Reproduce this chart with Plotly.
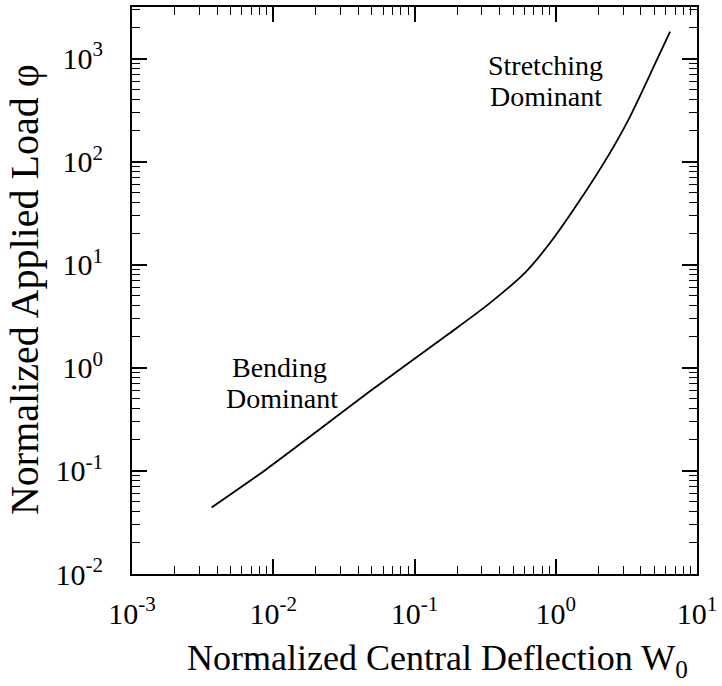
import plotly.graph_objects as go

# Data
W0 = [0.00366, 0.00895, 0.0202, 0.0478, 0.0914, 0.175, 0.336, 0.612, 0.918, 1.445, 2.35, 3.26, 5.06, 6.45]
phi = [0.0442, 0.104, 0.240, 0.585, 1.12, 2.14, 4.17, 8.49, 16.5, 40.1, 113.8, 253, 896, 1820]

x_tickvals = [1e-3, 1e-2, 1e-1, 1e0, 1e1]
x_ticktext = ["10<sup>-3</sup>", "10<sup>-2</sup>", "10<sup>-1</sup>", "10<sup>0</sup>", "10<sup>1</sup>"]
y_tickvals = [1e-2, 1e-1, 1e0, 1e1, 1e2, 1e3]
y_ticktext = ["10<sup>-2</sup>", "10<sup>-1</sup>", "10<sup>0</sup>", "10<sup>1</sup>", "10<sup>2</sup>", "10<sup>3</sup>"]

X_RANGE = [-3, 1]
Y_RANGE = [-2, 3.5]

FONT = "Liberation Serif, Times New Roman, serif"
BLACK = "black"

fig = go.Figure()
fig.add_trace(go.Scatter(x=W0, y=phi, mode="lines",
                         line=dict(color=BLACK, width=1.8, shape="spline", smoothing=0.8),
                         showlegend=False, hoverinfo="skip"))
# same series on the overlaid label axes (invisible) so that those axes are drawn
fig.add_trace(go.Scatter(x=W0, y=phi, mode="lines", xaxis="x2", yaxis="y2",
                         line=dict(color="rgba(0,0,0,0)", width=0), opacity=0,
                         showlegend=False, hoverinfo="skip"))

frame = dict(
    type="log", showgrid=False, zeroline=False, showline=True, linecolor=BLACK, linewidth=2,
    ticks="inside", ticklen=15, tickwidth=1.5, tickcolor=BLACK, mirror="allticks",
    showticklabels=False,
    minor=dict(ticks="inside", ticklen=8, tickwidth=1.2, tickcolor=BLACK, dtick="D1"),
)
labels = dict(
    type="log", showgrid=False, zeroline=False, showline=False,
    ticks="outside", tickcolor="rgba(0,0,0,0)", tickmode="array",
)

fig.update_layout(
    xaxis=dict(**frame, range=X_RANGE, tickvals=x_tickvals),
    yaxis=dict(**frame, range=Y_RANGE, tickvals=y_tickvals),
    xaxis2=dict(**labels, range=X_RANGE, overlaying="x", anchor="y", side="bottom",
                tickvals=x_tickvals, ticktext=x_ticktext, ticklen=13,
                tickfont=dict(family=FONT, size=30, color=BLACK)),
    yaxis2=dict(**labels, range=Y_RANGE, overlaying="y", anchor="x", side="left",
                tickvals=y_tickvals, ticktext=y_ticktext, ticklen=22,
                tickfont=dict(family=FONT, size=30, color=BLACK)),
)

# Axis titles
fig.add_annotation(text="Normalized Central Deflection W<sub>0</sub>", xref="paper", yref="paper",
                   x=0.541, y=-0.152, xanchor="center", yanchor="middle", showarrow=False,
                   font=dict(family=FONT, size=36, color=BLACK))
fig.add_annotation(text="Normalized Applied Load φ", xref="paper", yref="paper",
                   x=-0.19, y=0.502, xanchor="center", yanchor="middle", showarrow=False,
                   textangle=-90, font=dict(family=FONT, size=40, color=BLACK))

# Region labels
for txt, xp, yp in [("Stretching", 0.732, 0.897), ("Dominant", 0.732, 0.843),
                    ("Bending", 0.261, 0.364), ("Dominant", 0.266, 0.309)]:
    fig.add_annotation(text=txt, xref="paper", yref="paper", x=xp, y=yp,
                       xanchor="center", yanchor="middle", showarrow=False,
                       font=dict(family=FONT, size=28, color=BLACK))

fig.update_layout(
    width=722, height=686,
    margin=dict(l=132, r=23, t=5, b=112),
    plot_bgcolor="white", paper_bgcolor="white",
)

fig.write_html("out.html", config={"displayModeBar": False},
               post_script="document.body.style.margin='0px';")
